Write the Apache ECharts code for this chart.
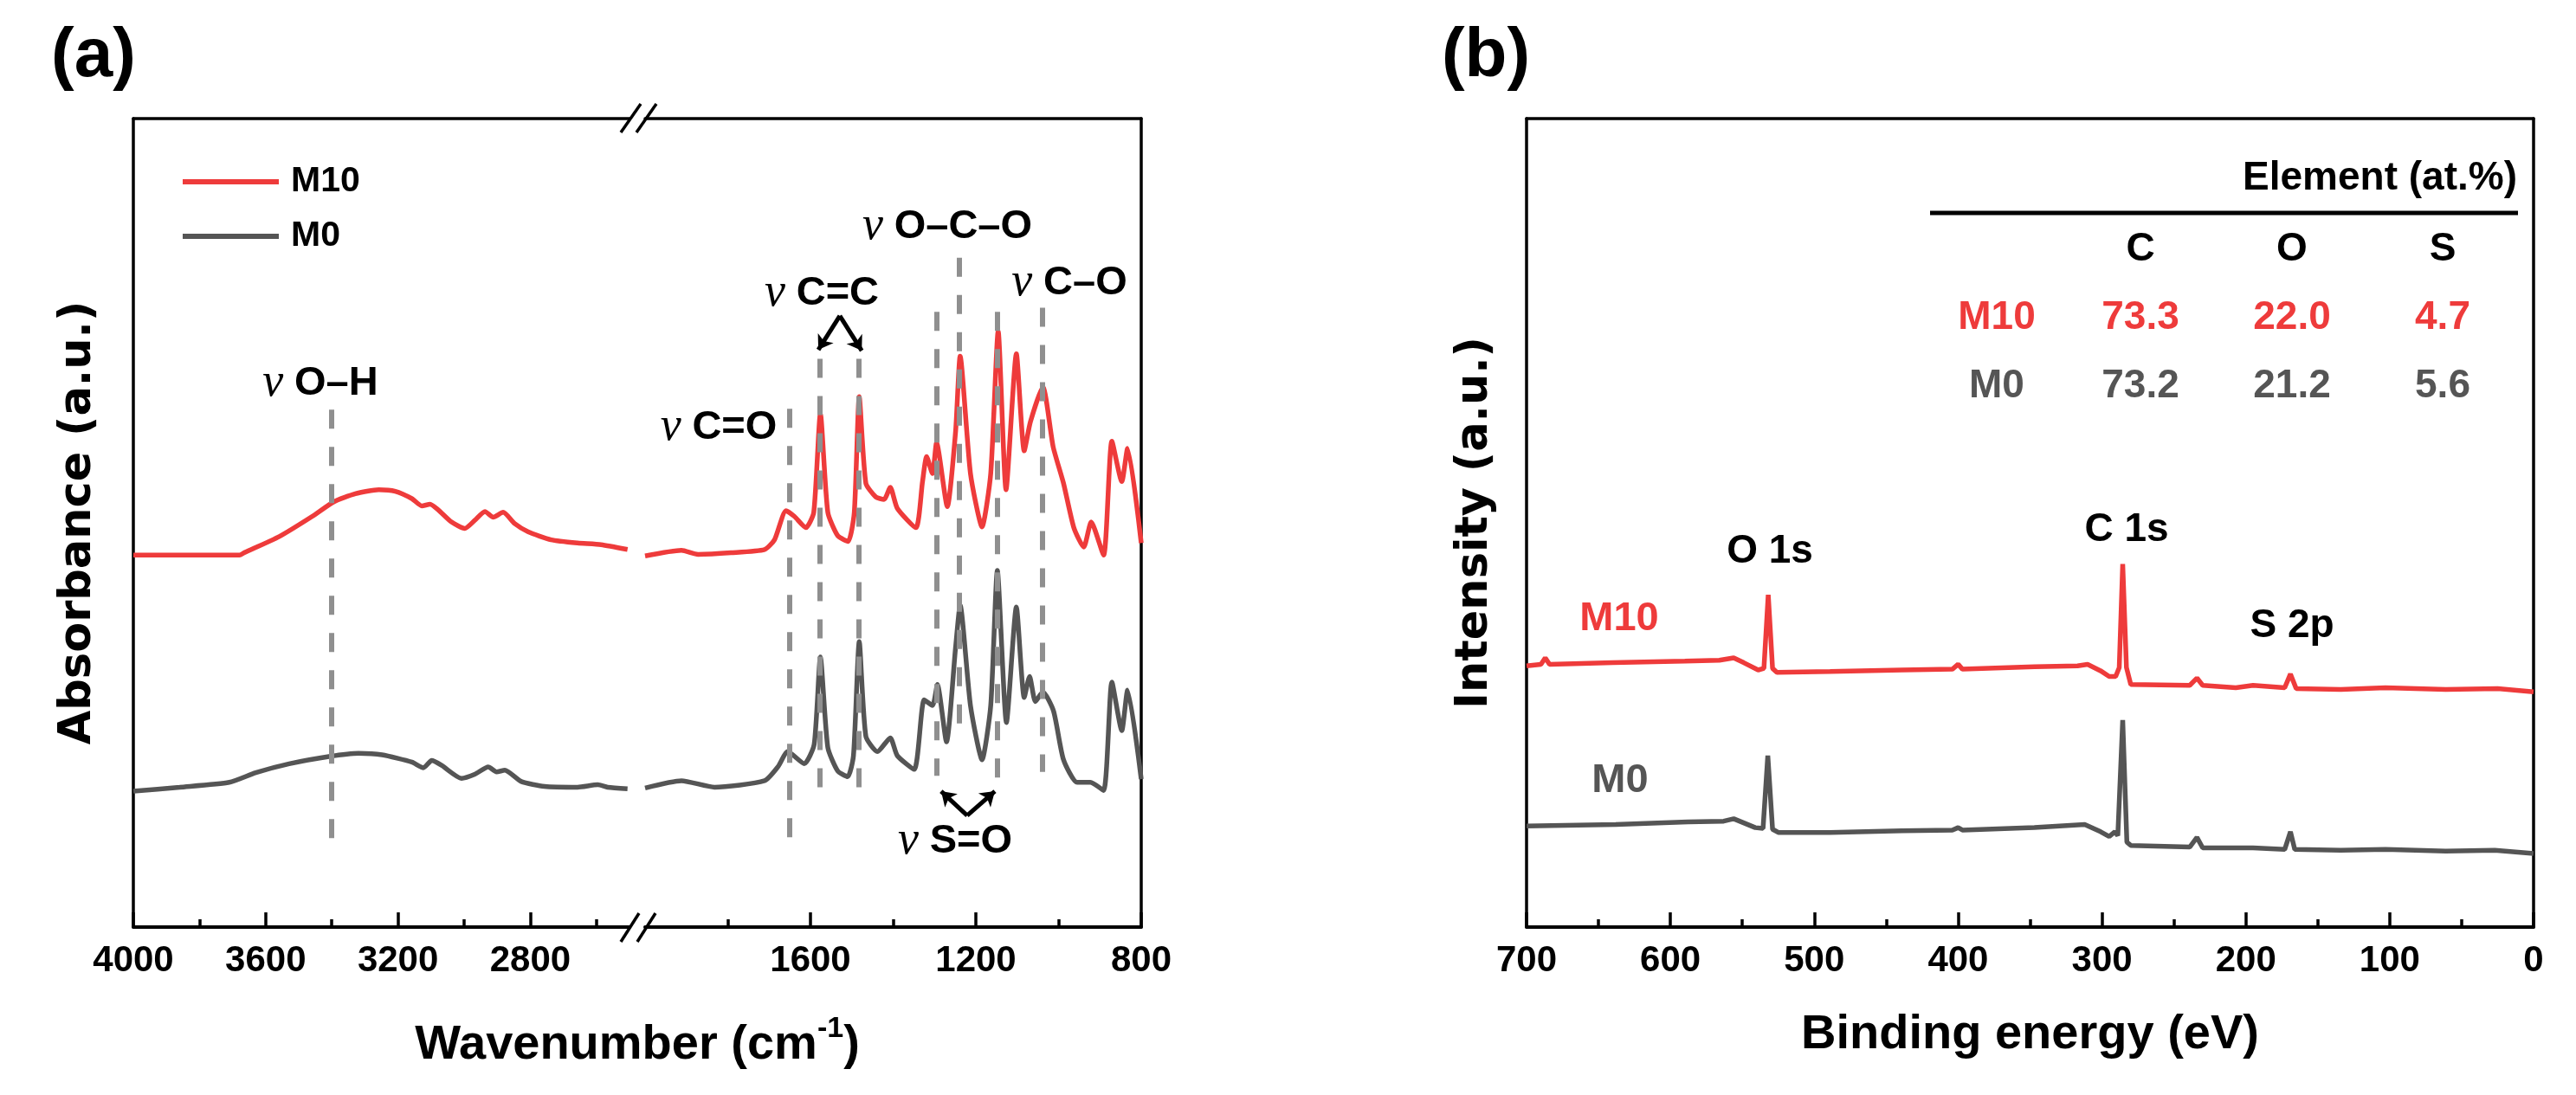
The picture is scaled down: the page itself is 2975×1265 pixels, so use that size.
<!DOCTYPE html>
<html>
<head>
<meta charset="utf-8">
<script src="https://cdn.jsdelivr.net/npm/echarts@6/dist/echarts.min.js"></script>
<style>
html,body{margin:0;padding:0;background:#ffffff;}
#chart{width:2975px;height:1265px;}
</style>
</head>
<body>
<div id="chart"></div>
<script>
// ---------------- DATA ----------------
// (a) FTIR, high-wavenumber segment (4000-2500 cm-1)
const ftirM10High = [[4000,46.0],[3679,46.0],[3665,46.3],[3559,48.3],[3459,50.8],[3394,52.6],[3329,53.6],[3258,54.1],[3208,53.9],[3158,53.0],[3128,52.1],[3103,52.3],[3078,51.6],[3038,50.1],[2998,49.3],[2968,50.3],[2937,51.4],[2912,50.7],[2882,51.3],[2847,49.9],[2807,48.9],[2737,47.9],[2657,47.5],[2586,47.3],[2506,46.7]];
const ftirM0High = [[4000,16.8],[3860,17.3],[3710,17.9],[3630,19.1],[3529,20.2],[3409,21.1],[3319,21.5],[3248,21.3],[3158,20.4],[3123,19.7],[3098,20.6],[3068,20.0],[3008,18.4],[2968,18.9],[2927,19.8],[2902,19.2],[2877,19.4],[2827,18.0],[2757,17.4],[2657,17.3],[2596,17.6],[2566,17.3],[2506,17.1]];
// (a) FTIR, fingerprint segment (2000-800 cm-1)
const ftirM10Low = [[2000,45.9],[1912,46.6],[1872,46.1],[1792,46.3],[1711,46.7],[1687,47.9],[1659,51.5],[1639,50.8],[1611,49.4],[1592,51.3],[1576,63.5],[1558,51.3],[1534,48.4],[1509,47.7],[1494,51.3],[1482,65.6],[1466,54.9],[1442,53.2],[1422,52.9],[1407,54.4],[1390,51.8],[1345,49.4],[1329,55.1],[1319,58.2],[1305,56.1],[1295,59.9],[1269,52.0],[1249,61.3],[1238,70.6],[1213,56.1],[1185,49.5],[1164,56.1],[1146,73.7],[1127,54.1],[1102,70.9],[1083,58.9],[1068,62.5],[1038,66.8],[1013,59.4],[988,54.9],[963,49.4],[939,47.0],[921,50.1],[891,46.0],[871,60.1],[847,55.1],[833,59.2],[800,47.5]];
const ftirM0Low = [[2000,17.2],[1912,18.1],[1832,17.3],[1711,18.1],[1679,19.8],[1655,21.7],[1615,20.2],[1591,22.6],[1576,33.4],[1558,22.2],[1534,19.3],[1510,18.6],[1496,21.2],[1482,35.3],[1466,23.6],[1438,21.7],[1407,23.4],[1390,21.2],[1349,19.5],[1325,28.1],[1305,27.4],[1293,30.0],[1271,22.9],[1249,34.6],[1238,39.8],[1213,27.4],[1185,20.7],[1164,27.4],[1148,44.1],[1126,25.3],[1102,39.6],[1083,28.4],[1070,31.0],[1056,27.9],[1038,29.1],[1012,26.7],[988,20.7],[955,17.9],[923,17.9],[891,16.9],[871,30.3],[847,24.3],[833,29.3],[800,18.3]];
// (a) band assignments (dashed guide lines)
const bandWavenumbers = [3400,1650,1577,1483,1295,1240,1148,1040];
const bandTop =         [64.0,64.1,70.3,70.3,76.1,82.8,76.1,76.6];
const bandBottom =      [10.8,10.9,17.3,17.3,18.7,23.7,18.3,19.2];
const arrowCC = [[1529,75.6],[1581,71.4],[1476,71.3]]; // apex, tip, tip
const arrowSO = [[1221,13.8],[1284,16.8],[1154,16.8]];
// (a) axis ticks
const ftirHighMajor = [4000,3600,3200,2800];
const ftirHighMinor = [3800,3400,3000,2600];
const ftirLowMajor = [1600,1200,800];
const ftirLowMinor = [1800,1400,1000];

// (b) XPS survey
const xpsM10 = [[700,32.3],[690,32.5],[687,33.3],[684,32.5],[640,32.7],[590,32.9],[566,33.0],[556,33.3],[549,32.7],[539,31.8],[535,32.0],[532,41.1],[529,32.0],[526,31.5],[489,31.6],[439,31.8],[404,31.9],[400,32.5],[397,31.9],[347,32.2],[317,32.3],[310,32.5],[301,31.7],[295,31.0],[290.5,31.0],[288,32.1],[285.6,44.9],[283,32.1],[280,30.0],[239,29.9],[234,30.8],[230,29.9],[207,29.6],[195,29.9],[173,29.6],[169,31.3],[165,29.5],[134,29.4],[103,29.6],[61,29.4],[25,29.5],[0,29.1]];
const xpsM0 = [[700,12.5],[638,12.7],[588,13.0],[563,13.1],[556,13.4],[541,12.3],[535.6,12.2],[532.3,21.2],[529,12.1],[525,11.7],[489,11.7],[439,11.9],[404,12.0],[400,12.3],[397,12.0],[347,12.3],[312,12.7],[301,11.8],[295,11.2],[291,11.8],[289,11.3],[285.6,25.6],[282.7,10.5],[280,10.1],[239,9.9],[234,11.1],[230,9.8],[195,9.8],[173,9.6],[169,11.8],[166,9.6],[134,9.5],[103,9.6],[61,9.4],[27,9.5],[0,9.1]];
const xpsMajor = [700,600,500,400,300,200,100,0];
const xpsMinor = [650,550,450,350,250,150,50];
// (b) composition table
const tableElements = ['C','O','S'];
const tableM10 = ['73.3','22.0','4.7'];
const tableM0 = ['73.2','21.2','5.6'];

// ---------------- STYLE ----------------
const FONT = 'Liberation Sans';
const RED = '#EE3B3B';
const GRAY = '#555555';
const DASH = '#8f8f8f';

function bottomAxis(gi, min, max, ticks, len, labels) {
  return {
    type:'value', gridIndex:gi, min:min, max:max, inverse:true, position:'bottom',
    axisLine:{show:!!labels, onZero:false, lineStyle:{color:'#000', width:4}},
    axisTick:{show:true, inside:true, length:len, customValues:ticks, lineStyle:{color:'#000', width:3.5}},
    axisLabel: labels ? {show:true, customValues:labels, margin:18, fontSize:42, fontWeight:'bold', fontFamily:FONT, color:'#000',
      formatter:function(v){ return String(v); }} : {show:false},
    splitLine:{show:false}
  };
}
function topAxis(gi, min, max) {
  return {type:'value', gridIndex:gi, min:min, max:max, inverse:true, position:'top',
    axisLine:{show:true, onZero:false, lineStyle:{color:'#000', width:3.5}},
    axisTick:{show:false}, axisLabel:{show:false}, splitLine:{show:false}};
}
function frameY(gi, pos, name, gap) {
  const a = {type:'value', gridIndex:gi, min:0, max:100, position:pos,
    axisLine:{show:true, onZero:false, lineStyle:{color:'#000', width:3.5}},
    axisTick:{show:false}, axisLabel:{show:false}, splitLine:{show:false}};
  if (name) {
    a.name = name; a.nameLocation = 'middle'; a.nameRotate = 90; a.nameGap = gap;
    a.nameTextStyle = {fontFamily:'DejaVu Sans', fontWeight:'bold', fontSize:51, color:'#000'};
  }
  return a;
}
function lineSeries(name, color, xi, yi, data, extra) {
  return Object.assign({type:'line', name:name, xAxisIndex:xi, yAxisIndex:yi, data:data,
    symbol:'none', showSymbol:false, smooth:0.2, lineStyle:{color:color, width:5.5},
    itemStyle:{color:color}, emphasis:{disabled:true}}, extra || {});
}
function bandLines(list) {
  return list.map(function(i){
    return [{coord:[bandWavenumbers[i], bandTop[i]]},{coord:[bandWavenumbers[i], bandBottom[i]]}];
  });
}
function arrowLines(a) {
  return [[{coord:a[0]},{coord:a[1]}],[{coord:a[0]},{coord:a[2]}]];
}

const chart = echarts.init(document.getElementById('chart'), null, {renderer:'canvas'});

function txt(x, y, text, extra) {
  return {type:'text', x:x, y:y, silent:true,
    style:Object.assign({text:text, fill:'#000', font:'bold 46px ' + FONT,
      textAlign:'center', textVerticalAlign:'middle', align:'center', verticalAlign:'middle'}, extra || {})};
}
function nuLabel(x, y, s) {
  return txt(x, y, '{nu|ν} {b|' + s + '}', {rich:{
    nu:{fontFamily:'Liberation Serif', fontStyle:'italic', fontSize:54, fill:'#000', color:'#000'},
    b:{fontFamily:FONT, fontWeight:'bold', fontSize:47, fill:'#000', color:'#000'}
  }});
}
function slash(x1,y1,x2,y2){
  return {type:'line', silent:true, shape:{x1:x1,y1:y1,x2:x2,y2:y2}, style:{stroke:'#000', lineWidth:3.5}};
}

const graphics = [
  txt(108, 66, '(a)', {font:'bold 80px ' + FONT}),
  txt(1716, 66, '(b)', {font:'bold 80px ' + FONT}),
  nuLabel(370, 443, 'O–H'),
  nuLabel(830, 494, 'C=O'),
  nuLabel(949, 339, 'C=C'),
  nuLabel(1094, 262, 'O–C–O'),
  nuLabel(1235, 327, 'C–O'),
  nuLabel(1103, 972, 'S=O'),
  txt(736, 1204, '{m|Wavenumber (cm}{s|-1}{m|)}', {rich:{
    m:{fontFamily:FONT, fontWeight:'bold', fontSize:56, lineHeight:64, verticalAlign:'bottom'},
    s:{fontFamily:FONT, fontWeight:'bold', fontSize:34, lineHeight:34, verticalAlign:'top'}
  }}),
  slash(717,153,740,120), slash(735,153,758,120),
  slash(717,1088,738,1055), slash(736,1088,757,1055),
  // (b) table
  txt(2907, 206, 'Element (at.%)', {textAlign:'right', align:'right', font:'bold 46px ' + FONT}),
  {type:'line', silent:true, shape:{x1:2229,y1:246,x2:2908,y2:246}, style:{stroke:'#000', lineWidth:5}},
  txt(2306, 367, 'M10', {fill:RED}),
  txt(2306, 446, 'M0', {fill:GRAY}),
  // (b) peak labels and sample labels
  txt(2044, 637, 'O 1s'),
  txt(2456, 612, 'C 1s'),
  txt(2647, 723, 'S 2p'),
  txt(1870, 715, 'M10', {fill:RED, font:'bold 47px ' + FONT}),
  txt(1871, 902, 'M0', {fill:GRAY, font:'bold 47px ' + FONT})
];
const colX = [2472, 2647, 2821];
tableElements.forEach(function(e,i){ graphics.push(txt(colX[i], 288, e)); });
tableM10.forEach(function(v,i){ graphics.push(txt(colX[i], 367, v, {fill:RED})); });
tableM0.forEach(function(v,i){ graphics.push(txt(colX[i], 446, v, {fill:GRAY})); });

const option = {
  animation:false,
  backgroundColor:'#ffffff',
  grid:[
    {left:154, top:137, width:573, height:934, outerBoundsMode:'none', containLabel:false},
    {left:745, top:137, width:573, height:934, outerBoundsMode:'none', containLabel:false},
    {left:1763, top:137, width:1163, height:934, outerBoundsMode:'none', containLabel:false}
  ],
  xAxis:[
    bottomAxis(0, 2500, 4000, ftirHighMajor, 17, ftirHighMajor),
    bottomAxis(0, 2500, 4000, ftirHighMinor, 9, null),
    topAxis(0, 2500, 4000),
    bottomAxis(1, 800, 2000, ftirLowMajor, 17, ftirLowMajor),
    bottomAxis(1, 800, 2000, ftirLowMinor, 9, null),
    topAxis(1, 800, 2000),
    Object.assign(bottomAxis(2, 0, 700, xpsMajor, 17, xpsMajor), {
      name:'Binding energy (eV)', nameLocation:'middle', nameGap:97,
      nameTextStyle:{fontFamily:FONT, fontWeight:'bold', fontSize:56, color:'#000'}}),
    bottomAxis(2, 0, 700, xpsMinor, 9, null),
    topAxis(2, 0, 700)
  ],
  yAxis:[
    frameY(0, 'left', 'Absorbance (a.u.)', 38),
    frameY(1, 'right'),
    frameY(2, 'left', 'Intensity (a.u.)', 34),
    frameY(2, 'right')
  ],
  legend:{
    data:['M10','M0'], orient:'vertical', left:206, top:183, selectedMode:false,
    icon:'rect', itemWidth:111, itemHeight:6, itemGap:19,
    textStyle:{fontFamily:FONT, fontWeight:'bold', fontSize:41, lineHeight:44, color:'#000', padding:[0,0,0,9]}
  },
  series:[
    lineSeries('M10', RED, 0, 0, ftirM10High, {markLine:{silent:true, symbol:['none','none'], label:{show:false},
      lineStyle:{color:DASH, width:6, type:[22,21]}, emphasis:{disabled:true}, data:bandLines([0])}}),
    lineSeries('M0', GRAY, 0, 0, ftirM0High),
    lineSeries('M10', RED, 3, 1, ftirM10Low, {markLine:{silent:true, symbol:['none','none'], label:{show:false},
      lineStyle:{color:DASH, width:6, type:[22,21]}, emphasis:{disabled:true}, data:bandLines([1,2,3,4,5,6,7])}}),
    lineSeries('M0', GRAY, 3, 1, ftirM0Low, {markLine:{silent:true, symbol:['none','arrow'], symbolSize:16, label:{show:false},
      lineStyle:{color:'#000', width:5, type:'solid'}, emphasis:{disabled:true}, data:arrowLines(arrowCC).concat(arrowLines(arrowSO))}}),
    lineSeries('M10', RED, 6, 2, xpsM10, {smooth:false}),
    lineSeries('M0', GRAY, 6, 2, xpsM0, {smooth:false})
  ],
  graphic:graphics
};
chart.setOption(option);
</script>
</body>
</html>
